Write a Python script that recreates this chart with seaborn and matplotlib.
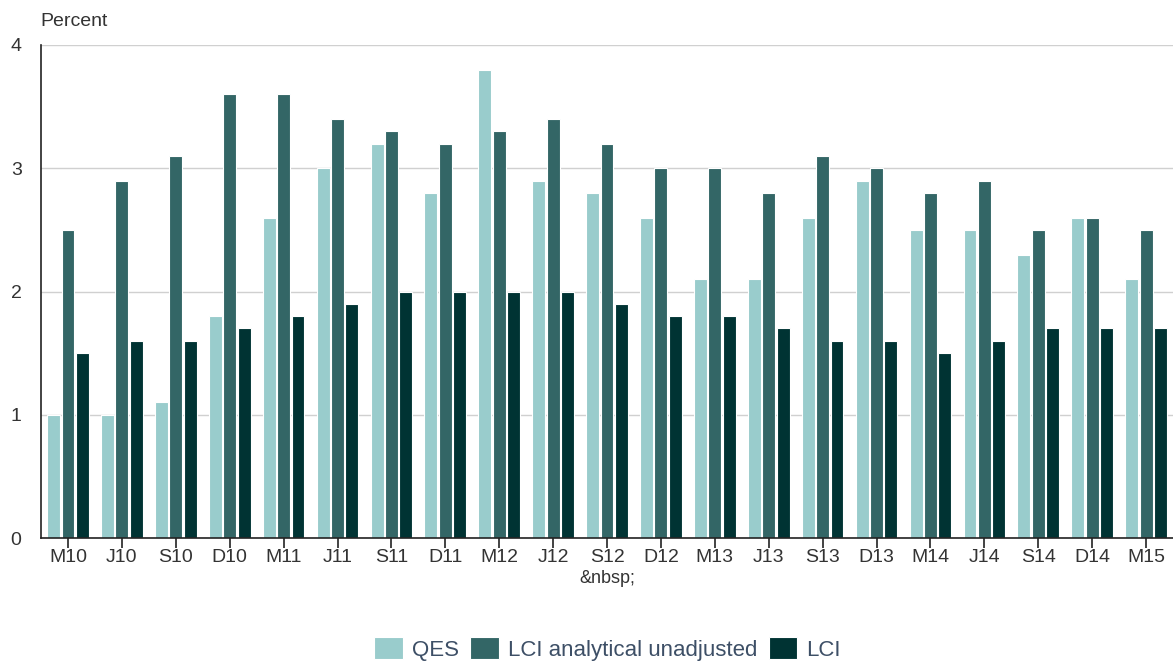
import matplotlib
matplotlib.use("Agg")
import matplotlib.pyplot as plt
import seaborn as sns
import pandas as pd

quarters = ["M10", "J10", "S10", "D10", "M11", "J11", "S11", "D11", "M12", "J12", "S12",
            "D12", "M13", "J13", "S13", "D13", "M14", "J14", "S14", "D14", "M15"]
qes = [1.0, 1.0, 1.1, 1.8, 2.6, 3.0, 3.2, 2.8, 3.8, 2.9, 2.8,
       2.6, 2.1, 2.1, 2.6, 2.9, 2.5, 2.5, 2.3, 2.6, 2.1]
lci_analytical = [2.5, 2.9, 3.1, 3.6, 3.6, 3.4, 3.3, 3.2, 3.3, 3.4, 3.2,
                  3.0, 3.0, 2.8, 3.1, 3.0, 2.8, 2.9, 2.5, 2.6, 2.5]
lci = [1.5, 1.6, 1.6, 1.7, 1.8, 1.9, 2.0, 2.0, 2.0, 2.0, 1.9,
       1.8, 1.8, 1.7, 1.6, 1.6, 1.5, 1.6, 1.7, 1.7, 1.7]
series_names = ["QES", "LCI analytical unadjusted", "LCI"]
colors = ["#99cccc", "#336666", "#003333"]

df = pd.DataFrame({
    "quarter": quarters * 3,
    "value": qes + lci_analytical + lci,
    "series": sum([[s] * len(quarters) for s in series_names], []),
})

sns.set_theme(style="white")
plt.rcParams["font.family"] = ["Liberation Sans", "DejaVu Sans"]

fig = plt.figure(figsize=(11.73, 6.61), dpi=100)
ax = fig.add_axes([0.035, 0.186, 0.965, 0.746])

sns.barplot(data=df, x="quarter", y="value", hue="series", hue_order=series_names,
            palette=colors, saturation=1, width=0.8, gap=0.1, edgecolor="white",
            linewidth=0.8, ax=ax, legend=True, errorbar=None)

ax.set_ylim(0, 4)
ax.set_yticks([0, 1, 2, 3, 4])
ax.set_xlim(-0.5, len(quarters) - 0.5)
ax.yaxis.grid(True, color="#d0d0d0", linewidth=1)
ax.set_axisbelow(True)
for side in ["top", "right"]:
    ax.spines[side].set_visible(False)
for side in ["left", "bottom"]:
    ax.spines[side].set_color("#222222")
    ax.spines[side].set_linewidth(1.2)

ax.tick_params(axis="x", which="major", length=7, width=1.2, color="#222222",
               labelsize=14, labelcolor="#333333", pad=1, direction="out", bottom=True)
ax.tick_params(axis="y", length=0, labelsize=14, labelcolor="#333333", pad=14)
ax.set_xlabel("&nbsp;", fontsize=13, color="#333333", labelpad=3)
ax.set_ylabel("")
fig.text(0.034, 0.955, "Percent", fontsize=14, color="#333333", ha="left", va="bottom")

handles, labels = ax.get_legend_handles_labels()
ax.legend_.remove()
fig.legend(handles, labels, loc="center", bbox_to_anchor=(0.518, 0.018), ncol=3,
           frameon=False, fontsize=16, labelcolor="#3d4f66", handlelength=1.3,
           handleheight=1.1, handletextpad=0.4, columnspacing=0.5)

fig.savefig("out.png", dpi=100)
